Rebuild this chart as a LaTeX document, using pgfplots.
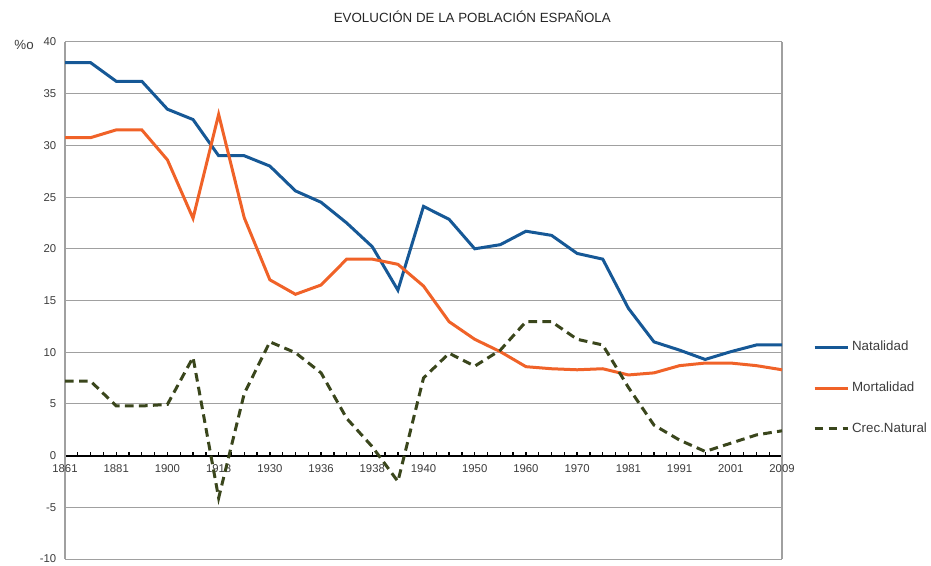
\documentclass[border=0pt]{standalone}
\usepackage{pgfplots}
\pgfplotsset{compat=1.18}
\usepackage{fontspec}
\setmainfont{Liberation Sans}
\definecolor{nat}{RGB}{22,88,150}
\definecolor{mor}{RGB}{240,98,40}
\definecolor{crec}{RGB}{58,70,28}
\definecolor{gridc}{RGB}{160,160,160}
\definecolor{txt}{RGB}{60,60,60}
\begin{document}
\begin{tikzpicture}
\begin{axis}[name=ax, scale only axis, width=537.75pt, height=387.75pt,
  xmin=0, xmax=28, ymin=-10, ymax=40,
  axis x line*=middle, axis y line*=box,
  hide obscured x ticks=false,
  x axis line style={black, line width=1.5pt},
  y axis line style={gridc, line width=0.8pt},
  xtick={0,2,...,28},
  xticklabels={1861,1881,1900,1918,1930,1936,1938,1940,1950,1960,1970,1981,1991,2001,2009},
  minor x tick num=3,
  x tick style={black, line width=1pt},
  xtick align=inside,
  major tick length=2.5pt, minor tick length=2.5pt,
  ytick={-10,-5,...,40}, ytick pos=left, y tick style={draw=none},
  ymajorgrids, y grid style={gridc, line width=0.75pt},
  /pgf/number format/assume math mode=true,
  ticklabel style={font=\fontsize{8.5}{10}\selectfont, text=txt},
  xticklabel style={yshift=-3.5pt},
  yticklabel style={xshift=-3pt},
  legend style={at={(rel axis cs:1.043,0.427)}, anchor=north west, draw=none, fill=none,
    font=\fontsize{10}{12}\selectfont, text=txt, row sep=18pt, inner sep=0pt},
  legend cell align=left,
  legend image code/.code={\draw[#1] (0pt,0pt) -- (25pt,0pt);},
  clip=false,
]
\addplot[nat, line width=2.25pt] coordinates {
(0,38) (1,38) (2,36.2) (3,36.2) (4,33.5) (5,32.5) (6,29) (7,29) (8,28) (9,25.6)
(10,24.5) (11,22.5) (12,20.2) (13,16) (14,24.1) (15,22.85) (16,20) (17,20.4) (18,21.7) (19,21.3)
(20,19.55) (21,19) (22,14.25) (23,11) (24,10.2) (25,9.3) (26,10.05) (27,10.7) (28,10.7)};
\addlegendentry{Natalidad}
\addplot[mor, line width=2.25pt] coordinates {
(0,30.75) (1,30.75) (2,31.5) (3,31.5) (4,28.6) (5,22.95) (6,33) (7,23) (8,17) (9,15.6)
(10,16.5) (11,19) (12,19) (13,18.5) (14,16.4) (15,12.95) (16,11.25) (17,10.05) (18,8.6) (19,8.4)
(20,8.3) (21,8.4) (22,7.8) (23,8) (24,8.7) (25,8.95) (26,8.95) (27,8.7) (28,8.3)};
\addlegendentry{Mortalidad}
\addplot[crec, line width=2.25pt, dash pattern=on 6.5pt off 4pt] coordinates {
(0,7.2) (1,7.2) (2,4.8) (3,4.8) (4,4.95) (5,9.5) (6,-4.1) (7,6) (8,11) (9,9.95)
(10,8) (11,3.6) (12,0.86) (13,-2.5) (14,7.5) (15,9.9) (16,8.65) (17,10.2) (18,12.95) (19,12.95)
(20,11.25) (21,10.7) (22,6.6) (23,2.95) (24,1.5) (25,0.4) (26,1.2) (27,2) (28,2.4)};
\addlegendentry{Crec.Natural}
\node[font=\fontsize{10}{12}\selectfont, text=black!85] at (rel axis cs:0.568,1.048) {EVOLUCIÓN DE LA POBLACIÓN ESPAÑOLA};
\node[font=\fontsize{10}{12}\selectfont, text=txt] at (rel axis cs:-0.057,0.994) {\%o};
\end{axis}
\pgfresetboundingbox
\path[use as bounding box] ([xshift=-48.75pt,yshift=-4.5pt]ax.south west) rectangle ([xshift=111.75pt,yshift=31.5pt]ax.north east);
\end{tikzpicture}
\end{document}
